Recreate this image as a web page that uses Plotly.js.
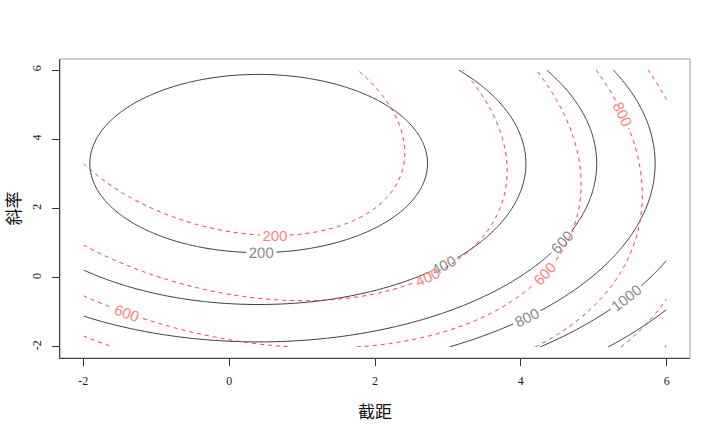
<!DOCTYPE html>
<html>
<head>
<meta charset="utf-8">
<script src="https://cdn.plot.ly/plotly-3.0.1.min.js"></script>
<style>html,body{margin:0;padding:0;background:#fff;}#chart{width:720px;height:432px;}</style>
</head>
<body>
<div id="chart"></div>
<script>
// Axis tick values and titles
const tickValues = [-2, 0, 2, 4, 6];
const xTitle = '截距';
const yTitle = '斜率';

// Grid extent of the loss surfaces (intercept, slope)
const interceptRange = [-2, 6];
const slopeRange = [-2, 6];
const gridStep = 0.05;

// Contour levels
const contourLevels = [200, 400, 600, 800, 1000, 1200, 1400];

// Quadratic loss surface (solid black):
// centre (intercept, slope), [a^2 coef, cross coef, b^2 coef], minimum value
const blackCenter = [0.405, 3.30];
const blackCoef = [24.8, 0.0, 20.06];
const blackMin = 67;

// Second loss surface (dashed red)
const redCenter = [-0.056, 4.535];
const redCoef = [24.4, 5.06, 13.5];
const redMin = 63.3;

function axisGrid(r) {
  const out = [];
  const n = Math.round((r[1] - r[0]) / gridStep);
  for (let i = 0; i <= n; i++) out.push(+(r[0] + i * gridStep).toFixed(4));
  return out;
}
const gx = axisGrid(interceptRange);
const gy = axisGrid(slopeRange);

function surface(center, coef, zmin) {
  return gy.map(b => gx.map(a => {
    const u = a - center[0], v = b - center[1];
    return zmin + coef[0] * u * u + 2 * coef[1] * u * v + coef[2] * v * v;
  }));
}

const contourSpec = {
  start: contourLevels[0],
  end: contourLevels[contourLevels.length - 1],
  size: contourLevels[1] - contourLevels[0],
  coloring: 'none',
  showlabels: true
};

const traces = [
  {
    type: 'contour', x: gx, y: gy, z: surface(blackCenter, blackCoef, blackMin),
    autocontour: false,
    contours: Object.assign({}, contourSpec, {labelfont: {family: 'Liberation Sans, Arial, sans-serif', size: 15, color: '#8a8a8a'}}),
    line: {color: '#3a3a3a', width: 1, smoothing: 1},
    showscale: false, hoverinfo: 'skip'
  },
  {
    type: 'contour', x: gx, y: gy, z: surface(redCenter, redCoef, redMin),
    autocontour: false,
    contours: Object.assign({}, contourSpec, {labelfont: {family: 'Liberation Sans, Arial, sans-serif', size: 15, color: '#ff8080'}}),
    line: {color: '#ff3333', width: 1, dash: '4px,4px', smoothing: 1},
    showscale: false, hoverinfo: 'skip'
  }
];

const axisCommon = {
  range: [-2.32, 6.32],
  tickmode: 'array',
  tickvals: tickValues,
  ticktext: tickValues.map(String),
  ticks: 'outside', ticklen: 7, tickwidth: 1, tickcolor: '#333',
  showgrid: false, zeroline: false,
  showline: true, linecolor: '#444', linewidth: 1, mirror: false,
  tickfont: {family: 'Liberation Serif, Times New Roman, serif', size: 12, color: '#222'},
  automargin: false
};

const layout = {
  width: 720, height: 432,
  margin: {l: 60, r: 30, t: 59, b: 74},
  paper_bgcolor: '#fff', plot_bgcolor: '#fff',
  showlegend: false,
  xaxis: Object.assign({}, axisCommon, {
    ticklabelstandoff: 5,
    title: {text: xTitle, font: {family: 'Noto Sans CJK SC', size: 17, color: '#111'}, standoff: 18}
  }),
  yaxis: Object.assign({}, axisCommon, {
    tickangle: -90,
    ticklabelstandoff: 6,
    title: {text: yTitle, font: {family: 'Noto Sans CJK SC', size: 17, color: '#111'}, standoff: 22}
  }),
  shapes: [{
    type: 'rect', xref: 'paper', yref: 'paper', x0: 0, x1: 1, y0: 0, y1: 1,
    line: {color: '#999', width: 1}, layer: 'below'
  }]
};

Plotly.newPlot('chart', traces, layout, {staticPlot: true, displayModeBar: false});
</script>
</body>
</html>
